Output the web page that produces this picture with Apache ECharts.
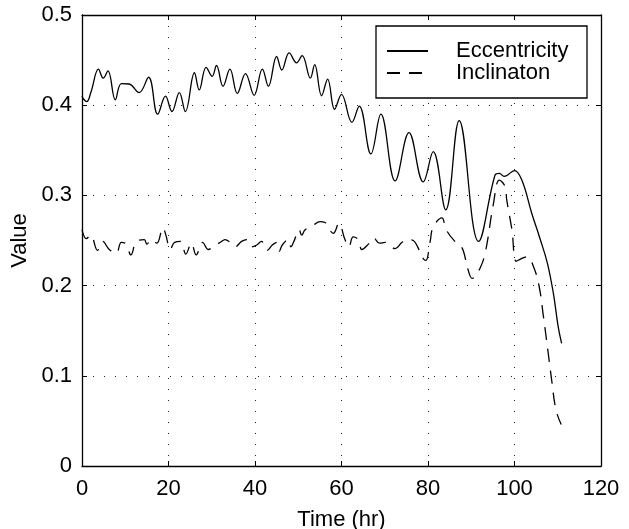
<!DOCTYPE html>
<html>
<head>
<meta charset="utf-8">
<script src="https://cdn.jsdelivr.net/npm/echarts@6/dist/echarts.min.js"></script>
<style>
html,body{margin:0;padding:0;background:#fff;}
#chart{width:629px;height:529px;}
</style>
</head>
<body>
<div id="chart"></div>
<script>
const xTicks = [0, 20, 40, 60, 80, 100, 120];
const yTicks = [0, 0.1, 0.2, 0.3, 0.4, 0.5];
const seriesNames = ['Eccentricity', 'Inclinaton'];

const eccTime = [0, 0.5, 1.1, 2.1, 3.8, 4.9, 6.0, 7.7, 9.1, 10.9, 13.2, 15.4, 17.5, 19.3, 20.8, 22.5, 23.9, 26.0, 27.1, 28.7, 30.1, 31.1, 32.6, 34.2, 35.9, 37.8, 39.8, 41.7, 43.1, 45.0, 46.2, 47.9, 49.6, 50.9, 52.8, 53.8, 55.4, 56.8, 58.4, 60.0, 62.4, 64.1, 66.8, 69.1, 72.4, 75.6, 78.9, 81.2, 84.1, 87.2, 91.7, 95.5, 96.5, 97.6, 100.0, 101.7, 104.0, 105.9, 107.6, 109.0, 110.1, 110.9];
const eccValue = [0.41, 0.406, 0.404, 0.415, 0.440, 0.430, 0.438, 0.406, 0.424, 0.4235, 0.414, 0.431, 0.390, 0.410, 0.393, 0.414, 0.393, 0.436, 0.417, 0.442, 0.432, 0.444, 0.421, 0.440, 0.413, 0.435, 0.411, 0.440, 0.421, 0.454, 0.439, 0.458, 0.447, 0.455, 0.430, 0.445, 0.4105, 0.429, 0.3955, 0.412, 0.381, 0.399, 0.346, 0.390, 0.316, 0.3695, 0.315, 0.3485, 0.284, 0.383, 0.249, 0.3226, 0.3245, 0.321, 0.3275, 0.317, 0.280, 0.252, 0.225, 0.191, 0.1545, 0.136];

const incTime = [0, 1, 2, 3.6, 4.8, 6.3, 7.9, 9.1, 10.2, 11.3, 12.6, 14.4, 15.0, 16.0, 17.3, 18.7, 19.4, 20.4, 21.4, 22.8, 24.0, 25.3, 26.4, 27.9, 29.2, 30.6, 32.0, 33.1, 34.2, 35.4, 36.9, 38.1, 39.3, 40.4, 41.5, 42.8, 44.0, 45.0, 45.6, 46.3, 47.7, 48.3, 49.0, 50.2, 50.8, 51.6, 53.5, 55.0, 56.2, 57.2, 58.1, 59.4, 60.8, 61.7, 62.7, 63.9, 64.7, 66.2, 67.4, 68.8, 70.1, 72.4, 74.0, 75.4, 76.6, 77.8, 78.9, 79.5, 80.5, 81.2, 83.2, 84.2, 86.2, 87.4, 88.2, 89.3, 90.2, 92.0, 93.3, 95.1, 96.5, 97.8, 98.2, 99.4, 100.4, 101.6, 102.9, 104.4, 105.7, 106.6, 107.8, 108.6, 109.6, 110.8];
const incValue = [0.262, 0.252, 0.256, 0.239, 0.249, 0.240, 0.236, 0.248, 0.246, 0.234, 0.249, 0.251, 0.246, 0.251, 0.247, 0.264, 0.256, 0.240, 0.248, 0.249, 0.235, 0.247, 0.234, 0.248, 0.240, 0.244, 0.248, 0.251, 0.248, 0.243, 0.249, 0.251, 0.243, 0.245, 0.249, 0.239, 0.245, 0.248, 0.238, 0.245, 0.251, 0.243, 0.249, 0.262, 0.256, 0.262, 0.267, 0.271, 0.270, 0.262, 0.258, 0.269, 0.251, 0.243, 0.254, 0.251, 0.240, 0.246, 0.253, 0.247, 0.248, 0.241, 0.248, 0.251, 0.250, 0.241, 0.230, 0.228, 0.249, 0.265, 0.275, 0.262, 0.249, 0.245, 0.238, 0.217, 0.208, 0.219, 0.238, 0.290, 0.317, 0.310, 0.295, 0.262, 0.227, 0.230, 0.232, 0.221, 0.199, 0.169, 0.125, 0.095, 0.062, 0.046];

const FONT = 'Liberation Sans';
const FS = 22;
const chart = echarts.init(document.getElementById('chart'), null, {renderer: 'canvas'});

const gridLine = {show: true, lineStyle: {color: '#222', width: 1, type: [1, 10]}};
const axisLine = {show: true, onZero: false, lineStyle: {color: '#000', width: 1.3}};
const tick = {show: true, inside: true, length: 5, lineStyle: {color: '#000', width: 1}};

chart.setOption({
  animation: false,
  backgroundColor: '#fff',
  textStyle: {fontFamily: FONT},
  grid: {left: 82, top: 15, width: 519, height: 451, containLabel: false, outerBoundsMode: 'none'},
  legend: {
    orient: 'vertical',
    left: 376, top: 26,
    padding: [14, 12, 14, 10],
    itemGap: 0,
    itemWidth: 41, itemHeight: 14,
    borderColor: '#000', borderWidth: 1.3,
    backgroundColor: '#fff',
    itemStyle: {opacity: 0},
    data: seriesNames,
    textStyle: {fontFamily: FONT, fontSize: FS, color: '#000', lineHeight: 21, padding: [0, 0, 0, 23], width: 119}
  },
  xAxis: [{
    type: 'value', min: xTicks[0], max: xTicks[xTicks.length - 1], interval: 20,
    name: 'Time (hr)', nameLocation: 'middle', nameGap: 43,
    nameTextStyle: {fontFamily: FONT, fontSize: FS, color: '#000'},
    axisLine: axisLine, axisTick: tick, splitLine: gridLine,
    axisLabel: {fontFamily: FONT, fontSize: FS, color: '#000', margin: 12}
  }, {
    type: 'value', position: 'top', min: xTicks[0], max: xTicks[xTicks.length - 1], interval: 20,
    axisLine: axisLine, axisTick: tick, splitLine: {show: false}, axisLabel: {show: false}
  }],
  yAxis: [{
    type: 'value', min: yTicks[0], max: yTicks[yTicks.length - 1], interval: 0.1,
    name: 'Value', nameLocation: 'middle', nameGap: 50,
    nameTextStyle: {fontFamily: FONT, fontSize: FS, color: '#000'},
    axisLine: axisLine, axisTick: tick, splitLine: gridLine,
    axisLabel: {fontFamily: FONT, fontSize: FS, color: '#000', margin: 10}
  }, {
    type: 'value', position: 'right', min: yTicks[0], max: yTicks[yTicks.length - 1], interval: 0.1,
    axisLine: axisLine, axisTick: tick, splitLine: {show: false}, axisLabel: {show: false}
  }],
  series: [{
    name: seriesNames[0], type: 'line', xAxisIndex: 0, yAxisIndex: 0,
    data: eccTime.map((t, i) => [t, eccValue[i]]),
    smooth: 0.4, showSymbol: false, symbol: 'none',
    lineStyle: {color: '#000', width: 1.3, type: 'solid'},
    itemStyle: {color: '#000'}
  }, {
    name: seriesNames[1], type: 'line', xAxisIndex: 0, yAxisIndex: 0,
    data: incTime.map((t, i) => [t, incValue[i]]),
    smooth: 0.4, showSymbol: false, symbol: 'none',
    lineStyle: {color: '#000', width: 1.3, type: [13, 9]},
    itemStyle: {color: '#000'}
  }]
});
</script>
</body>
</html>
